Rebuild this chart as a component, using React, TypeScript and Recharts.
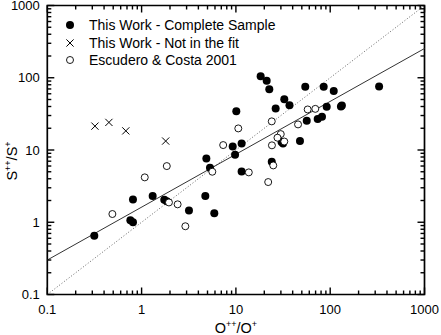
import React from 'react';
import {
  ScatterChart,
  Scatter,
  XAxis,
  YAxis,
  ReferenceLine,
  ReferenceArea,
  Legend,
  Label,
} from 'recharts';

const FONT = '"Liberation Sans", Arial, Helvetica, sans-serif';

// series names
const SERIES_COMPLETE = 'This Work - Complete Sample';
const SERIES_NOT_FIT = 'This Work - Not in the fit';
const SERIES_EC = 'Escudero & Costa 2001';

// This Work - Complete Sample (O++/O+, S++/S+)
const COMPLETE_X = [0.315, 0.81, 0.76, 0.81, 1.31, 1.74, 1.85, 3.18, 4.74, 5.9, 5.31, 4.86, 11.5, 9.8, 9.25, 11.5, 10.1, 18.3, 21.2, 22.6, 32.6, 37.0, 26.4, 54.4, 85.3, 109, 330, 91.8, 133, 130, 56.4, 73.7, 81.8, 30.5, 31.6, 47.8, 24.0];
const COMPLETE_Y = [0.65, 2.07, 1.07, 1.0, 2.3, 2.05, 1.95, 1.46, 2.3, 1.33, 5.67, 7.6, 5.06, 8.6, 11.2, 12.3, 34.3, 105, 90.6, 69.5, 50.6, 41.5, 37.6, 74.8, 74.8, 65.3, 75.8, 39.6, 41.4, 40, 25.3, 26.8, 28.8, 12.9, 12.3, 13.3, 6.87];

// This Work - Not in the fit
const NOT_FIT_X = [0.32, 0.45, 0.68, 1.8];
const NOT_FIT_Y = [21.4, 24.1, 18.4, 13.3];

// Escudero & Costa 2001
const EC_X = [0.49, 1.08, 1.85, 1.95, 2.41, 2.91, 5.62, 13.7, 22.0, 24.9, 7.33, 10.6, 24.0, 29.9, 27.6, 32.6, 24.1, 45.6, 57.7, 69.5];
const EC_Y = [1.3, 4.18, 5.99, 1.88, 1.77, 0.88, 5.0, 4.9, 3.6, 6.12, 11.7, 19.9, 24.9, 16.6, 14.8, 13.1, 11.6, 22.6, 36.4, 37.1];

// fit line end points and 1:1 line
const FIT_START = { x: 0.1, y: 0.3 };
const FIT_END = { x: 1000, y: 254 };
const ONE_TO_ONE_START = { x: 0.1, y: 0.1 };
const ONE_TO_ONE_END = { x: 1000, y: 1000 };

const DOMAIN: [number, number] = [0.1, 1000];
const [LO, HI] = DOMAIN;
const MAJOR_TICKS = [0.1, 1, 10, 100, 1000];
const MINOR_STEPS = [2, 3, 4, 5, 6, 7, 8, 9];

const MINOR_TICKS = MAJOR_TICKS.slice(0, -1).flatMap((m) =>
  MINOR_STEPS.map((s) => +(m * s).toPrecision(3))
);

const toPoints = (xs: number[], ys: number[]) => xs.map((x, i) => ({ x, y: ys[i] }));

const completeData = toPoints(COMPLETE_X, COMPLETE_Y);
const notFitData = toPoints(NOT_FIT_X, NOT_FIT_Y);
const ecData = toPoints(EC_X, EC_Y);

const CHART_W = 441;
const CHART_H = 335;
const MARGIN = { top: 5.5, right: 16.5, bottom: 0, left: 0 };
const Y_AXIS_W = 47.3;
const X_AXIS_H = 40.5;

// inward tick marks: one scatter mark per tick, sitting on the frame edge
const MAJOR_LEN = 7;
const MINOR_LEN = 4;
type Side = 'bottom' | 'top' | 'left' | 'right';
const SIDES: Side[] = ['bottom', 'top', 'left', 'right'];

const edgePoints = (side: Side, vals: number[], len: number) =>
  vals.map((v) => {
    const p =
      side === 'bottom' ? { x: v, y: LO } : side === 'top' ? { x: v, y: HI } : side === 'left' ? { x: LO, y: v } : { x: HI, y: v };
    return { ...p, side, len };
  });

const TICK_DATA = SIDES.flatMap((s) => [
  ...edgePoints(s, MAJOR_TICKS, MAJOR_LEN),
  ...edgePoints(s, MINOR_TICKS, MINOR_LEN),
]);

const TickMark = (props: any) => {
  const { cx, cy } = props;
  const p = props.payload || props;
  const len = p.len ?? MINOR_LEN;
  const w = 1.4;
  switch (p.side) {
    case 'bottom':
      return <rect x={cx - w / 2} y={cy - len} width={w} height={len} fill="#000" />;
    case 'top':
      return <rect x={cx - w / 2} y={cy} width={w} height={len} fill="#000" />;
    case 'left':
      return <rect x={cx} y={cy - w / 2} width={len} height={w} fill="#000" />;
    default:
      return <rect x={cx - len} y={cy - w / 2} width={len} height={w} fill="#000" />;
  }
};

const BottomLabel = (props: any) => (
  <text x={props.x} y={props.y + 19} textAnchor="middle" fontSize={13} fontFamily={FONT} fill="#000">
    {String(props.payload.value)}
  </text>
);
const LeftLabel = (props: any) => (
  <text x={props.x - 7.5} y={props.y + 4.6} textAnchor="end" fontSize={13} fontFamily={FONT} fill="#000">
    {String(props.payload.value)}
  </text>
);

const FilledDot = (props: any) => <circle cx={props.cx} cy={props.cy} r={4} fill="#000" />;
const OpenDot = (props: any) => (
  <circle cx={props.cx} cy={props.cy} r={3.5} fill="#fff" stroke="#000" strokeWidth={0.9} />
);
const CrossMark = (props: any) => {
  const { cx, cy } = props;
  const s = 3.6;
  return (
    <g stroke="#000" strokeWidth={1}>
      <line x1={cx - s} y1={cy - s} x2={cx + s} y2={cy + s} />
      <line x1={cx - s} y1={cy + s} x2={cx + s} y2={cy - s} />
    </g>
  );
};

const LEGEND_ROWS = [
  { name: SERIES_COMPLETE, Shape: FilledDot },
  { name: SERIES_NOT_FIT, Shape: CrossMark },
  { name: SERIES_EC, Shape: OpenDot },
];

const renderLegend = () => (
  <div style={{ fontFamily: FONT, fontSize: 14, color: '#000' }}>
    {LEGEND_ROWS.map(({ name, Shape }) => (
      <div key={name} style={{ display: 'flex', alignItems: 'center', height: 17.6 }}>
        <svg width={14} height={14} style={{ marginRight: 12 }}>
          <Shape cx={7} cy={7} />
        </svg>
        <span>{name}</span>
      </div>
    ))}
  </div>
);

const XTitle = (props: any) => {
  const { viewBox } = props;
  const cx = viewBox.x + viewBox.width / 2;
  return (
    <text x={cx} y={333} textAnchor="middle" fontSize={14.5} fontFamily={FONT} fill="#000">
      O<tspan fontSize={9} dy={-6}>++</tspan>
      <tspan dy={6}>/O</tspan>
      <tspan fontSize={9} dy={-6}>+</tspan>
    </text>
  );
};

const YTitle = () => {
  const cx = 16.5;
  const cy = 161;
  return (
    <text
      x={cx}
      y={cy}
      transform={`rotate(-90, ${cx}, ${cy})`}
      textAnchor="middle"
      fontSize={14.5}
      fontFamily={FONT}
      fill="#000"
    >
      S<tspan fontSize={9} dy={-6}>++</tspan>
      <tspan dy={6}>/S</tspan>
      <tspan fontSize={9} dy={-6}>+</tspan>
    </text>
  );
};

export default function App() {
  return (
    <div style={{ position: 'absolute', left: 0, top: 0, background: '#fff' }}>
      <ScatterChart width={CHART_W} height={CHART_H} margin={MARGIN}>
        <XAxis
          xAxisId="bottom"
          dataKey="x"
          type="number"
          scale="log"
          domain={DOMAIN}
          ticks={MAJOR_TICKS}
          interval={0}
          tickLine={false}
          tickSize={0}
          tickMargin={0}
          axisLine={false}
          tick={BottomLabel}
          height={X_AXIS_H}
        >
          <Label content={XTitle} />
        </XAxis>
        <YAxis
          yAxisId="left"
          dataKey="y"
          type="number"
          scale="log"
          domain={DOMAIN}
          ticks={MAJOR_TICKS}
          interval={0}
          tickLine={false}
          tickSize={0}
          tickMargin={0}
          axisLine={false}
          tick={LeftLabel}
          width={Y_AXIS_W}
        >
          <Label content={YTitle} />
        </YAxis>
        <ReferenceLine
          xAxisId="bottom"
          yAxisId="left"
          segment={[ONE_TO_ONE_START, ONE_TO_ONE_END]}
          stroke="#666"
          strokeWidth={1}
          strokeDasharray="1 2"
        />
        <ReferenceLine
          xAxisId="bottom"
          yAxisId="left"
          segment={[FIT_START, FIT_END]}
          stroke="#333"
          strokeWidth={1}
        />
        <ReferenceArea
          xAxisId="bottom"
          yAxisId="left"
          x1={LO}
          x2={HI}
          y1={LO}
          y2={HI}
          fill="none"
          fillOpacity={0}
          stroke="#000"
          strokeWidth={1.7}
          strokeOpacity={1}
        />
        <Scatter
          name="ticks"
          xAxisId="bottom"
          yAxisId="left"
          data={TICK_DATA}
          shape={TickMark}
          legendType="none"
          isAnimationActive={false}
        />
        <Scatter
          name={SERIES_COMPLETE}
          xAxisId="bottom"
          yAxisId="left"
          data={completeData}
          shape={FilledDot}
          isAnimationActive={false}
        />
        <Scatter
          name={SERIES_NOT_FIT}
          xAxisId="bottom"
          yAxisId="left"
          data={notFitData}
          shape={CrossMark}
          isAnimationActive={false}
        />
        <Scatter
          name={SERIES_EC}
          xAxisId="bottom"
          yAxisId="left"
          data={ecData}
          shape={OpenDot}
          isAnimationActive={false}
        />
        <Legend
          layout="vertical"
          align="center"
          verticalAlign="middle"
          content={renderLegend}
          wrapperStyle={{ top: 16.2, left: 63, width: 260, height: 54 }}
        />
      </ScatterChart>
    </div>
  );
}
